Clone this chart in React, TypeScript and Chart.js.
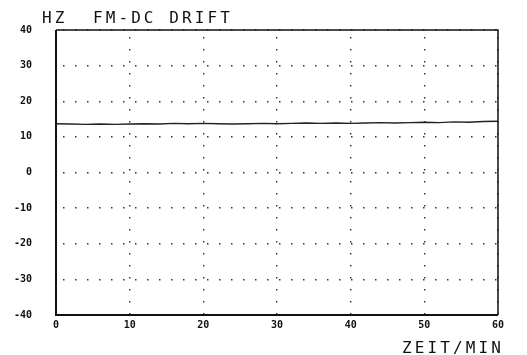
import React, { useEffect, useRef } from "react";
import { Chart, registerables } from "chart.js";

Chart.register(...registerables);

const titleText = "HZ  FM-DC DRIFT";
const xAxisTitle = "ZEIT/MIN";
const xTicks = [0, 10, 20, 30, 40, 50, 60];
const yTicks = [-40, -30, -20, -10, 0, 10, 20, 30, 40];
const timeMin = [0, 2, 4, 6, 8, 10, 12, 14, 16, 18, 20, 22, 24, 26, 28, 30, 32, 34, 36, 38, 40, 42, 44, 46, 48, 50, 52, 54, 56, 58, 60];
const driftHz = [13.7, 13.6, 13.5, 13.6, 13.5, 13.6, 13.7, 13.6, 13.8, 13.7, 13.8, 13.7, 13.6, 13.7, 13.8, 13.7, 13.8, 13.9, 13.8, 13.9, 13.8, 13.9, 14.0, 13.9, 14.0, 14.1, 14.0, 14.2, 14.1, 14.3, 14.4];

const MONO = "'DejaVu Sans Mono', monospace";

export default function App() {
  const ref = useRef<HTMLCanvasElement>(null);
  useEffect(() => {
    const canvas = ref.current!;
    const framePlugin = {
      id: "frameAndTexts",
      beforeDraw(chart: any) {
        const ctx = chart.ctx as CanvasRenderingContext2D;
        ctx.save();
        ctx.fillStyle = "#fff";
        ctx.fillRect(0, 0, chart.width, chart.height);
        ctx.restore();
      },
      afterDraw(chart: any) {
        const ctx = chart.ctx as CanvasRenderingContext2D;
        const a = chart.chartArea;
        ctx.save();
        ctx.strokeStyle = "#111";
        ctx.lineWidth = 1.5;
        ctx.beginPath();
        ctx.moveTo(a.left, a.top);
        ctx.lineTo(a.right, a.top);
        ctx.lineTo(a.right, a.bottom);
        ctx.stroke();
        ctx.lineWidth = 2;
        ctx.beginPath();
        ctx.moveTo(a.left, a.top);
        ctx.lineTo(a.left, a.bottom);
        ctx.lineTo(a.right, a.bottom);
        ctx.stroke();
        ctx.fillStyle = "#111";
        ctx.font = "16px " + MONO;
        (ctx as any).letterSpacing = "3.1px";
        ctx.textBaseline = "middle";
        ctx.textAlign = "left";
        ctx.fillText(titleText, 42, 19);
        ctx.fillText(xAxisTitle, 402, 349);
        ctx.restore();
      },
    };
    const chart = new Chart(canvas, {
      type: "line",
      data: {
        datasets: [
          {
            data: timeMin.map((t, i) => ({ x: t, y: driftHz[i] })),
            borderColor: "#222",
            borderWidth: 1.4,
            pointRadius: 0,
            tension: 0,
          },
        ],
      },
      options: {
        animation: false,
        responsive: false,
        events: [],
        layout: { padding: { top: 27, right: 29, left: 0, bottom: 0 } },
        plugins: { legend: { display: false }, tooltip: { enabled: false } },
        scales: {
          x: {
            type: "linear",
            min: 0,
            max: 60,
            afterBuildTicks: (s: any) => {
              s.ticks = xTicks.map((v) => ({ value: v }));
            },
            afterFit: (s: any) => {
              s.height = 40;
            },
            border: { display: false, dash: [1.5, 10.5], dashOffset: 5 },
            grid: {
              color: "#333",
              lineWidth: 1.4,
              drawTicks: false,
            },
            ticks: {
              color: "#111",
              font: { family: MONO, size: 10, weight: "bold" },
              padding: 4,
              maxRotation: 0,
              autoSkip: false,
            },
          },
          y: {
            type: "linear",
            min: -40,
            max: 40,
            afterBuildTicks: (s: any) => {
              s.ticks = yTicks.map((v) => ({ value: v }));
            },
            afterFit: (s: any) => {
              s.width = 56;
            },
            border: { display: false, dash: [1.5, 10.5], dashOffset: 5 },
            grid: {
              color: "#333",
              lineWidth: 1.4,
              drawTicks: false,
            },
            ticks: {
              color: "#111",
              font: { family: MONO, size: 10, weight: "bold" },
              padding: 24,
              autoSkip: false,
            },
          },
        },
      },
      plugins: [framePlugin],
    } as any);
    return () => chart.destroy();
  }, []);
  return (
    <div style={{ position: "fixed", left: 0, top: 0, width: 527, height: 355, background: "#fff" }}>
      <canvas ref={ref} width={527} height={355} style={{ display: "block" }} />
    </div>
  );
}
